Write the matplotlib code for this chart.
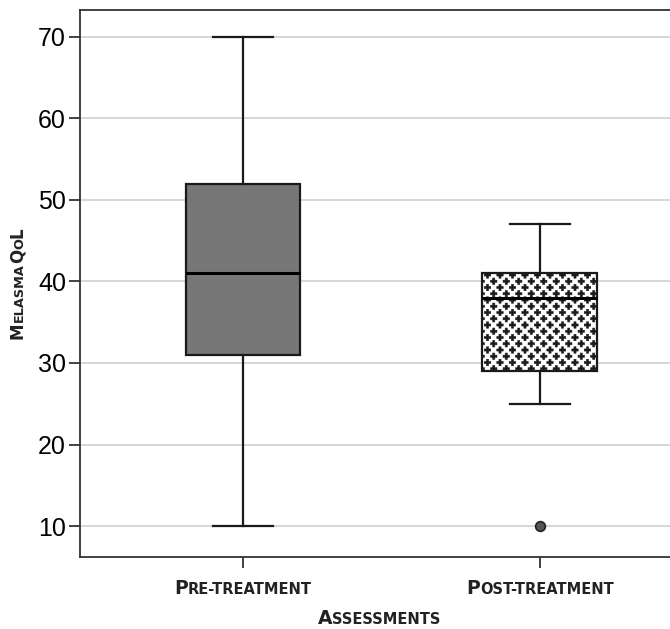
import numpy as np
import matplotlib
matplotlib.use('Agg')
import matplotlib.pyplot as plt
import matplotlib.hatch as mhatch
from matplotlib.path import Path

# data
groups = ['Pre-treatment', 'Post-treatment']
q1 = [31, 29]
med = [41, 38]
q3 = [52, 41]
whislo = [10, 25]
whishi = [70, 47]
fliers = [[], [10]]
yticks = [10, 20, 30, 40, 50, 60, 70]


class PlusHatch(mhatch.HatchPatternBase):
    # staggered little "+" signs, used in place of the '*' hatch
    def __init__(self, hatch, density):
        self.n = int(round(hatch.count('*') * density * 4 / 3))
        s, a = 0.032, 0.0105
        self.shape = np.array([(-a, -s), (a, -s), (a, -a), (s, -a), (s, a), (a, a),
                               (a, s), (-a, s), (-a, a), (-s, a), (-s, -a), (-a, -a),
                               (-a, -s)])
        self.centers = []
        for row in range(2 * self.n + 1):
            if row % 2 == 0:
                cols = np.linspace(0, 1, self.n + 1)
            else:
                cols = np.linspace(0.5 / self.n, 1 - 0.5 / self.n, self.n)
            for c in cols:
                self.centers.append((c, row / (2 * self.n)))
        self.num_vertices = len(self.centers) * len(self.shape) if self.n else 0

    def set_vertices_and_codes(self, vertices, codes):
        k = len(self.shape)
        for i, (cx, cy) in enumerate(self.centers):
            vertices[i * k:(i + 1) * k] = self.shape + (cx, cy)
            codes[i * k] = Path.MOVETO
            codes[i * k + 1:(i + 1) * k - 1] = Path.LINETO
            codes[(i + 1) * k - 1] = Path.CLOSEPOLY


mhatch._hatch_types = [PlusHatch if h is mhatch.Stars else h for h in mhatch._hatch_types]

plt.rcParams['hatch.color'] = '#474747'
plt.rcParams['hatch.linewidth'] = 0.4

fig = plt.figure(figsize=(6.7, 6.29), dpi=100)
ax = fig.add_axes([80 / 670, 1 - 557 / 629, 1 - 80 / 670, (557 - 10) / 629])

stats = []
for i in range(len(groups)):
    stats.append(dict(label=groups[i], q1=q1[i], med=med[i], q3=q3[i],
                      whislo=whislo[i], whishi=whishi[i], fliers=fliers[i]))

bp = ax.bxp(stats, positions=[1, 2], widths=0.387, patch_artist=True,
            boxprops=dict(linewidth=1.6, edgecolor='#1a1a1a'),
            medianprops=dict(color='black', linewidth=2.2),
            whiskerprops=dict(color='#1a1a1a', linewidth=1.6),
            capprops=dict(color='#1a1a1a', linewidth=1.6),
            capwidths=0.2,
            flierprops=dict(marker='o', markersize=7, markerfacecolor='#555555',
                            markeredgecolor='#222222', markeredgewidth=1.2))
bp['boxes'][0].set_facecolor('#777777')
bp['boxes'][1].set_facecolor('white')
bp['boxes'][1].set_hatch('*')

ax.set_xlim(0.451, 2.438)
ax.set_ylim(6.2, 73.3)
ax.set_yticks(yticks)
ax.set_xticks([1, 2])
ax.set_xticklabels(['', ''])
ax.yaxis.grid(True, color='#d4d4d4', linewidth=1.3)
ax.set_axisbelow(True)
ax.spines['right'].set_visible(False)
for s in ['left', 'top', 'bottom']:
    ax.spines[s].set_color('#333333')
    ax.spines[s].set_linewidth(1.3)
ax.tick_params(axis='both', length=8, width=1.3, color='#333333')
ax.tick_params(axis='y', labelsize=18, pad=2)
for lab in ax.get_yticklabels():
    lab.set_family('Liberation Sans')


def small_caps(x, y, word, big=13.5, small=10.5, rotation=0):
    # fake small caps: capitals big, the rest upper case but smaller
    runs = []
    for ch in word:
        sz = big if ch.isupper() else small
        if runs and runs[-1][1] == sz:
            runs[-1][0] += ch.upper()
        else:
            runs.append([ch.upper(), sz])
    r = fig.canvas.get_renderer()
    texts, widths = [], []
    for s, sz in runs:
        t = fig.text(0, 0, s, fontsize=sz, fontweight='bold', family='DejaVu Sans',
                     color='#222222', ha='left', va='baseline')
        texts.append(t)
        widths.append(t.get_window_extent(r).width)
    total = sum(widths)
    pos = -total / 2
    for t, w in zip(texts, widths):
        if rotation:
            t.set_position((x / 670, (629 - y + pos) / 629))
            t.set_rotation(90)
            t.set_rotation_mode('anchor')
        else:
            t.set_position(((x + pos) / 670, (629 - y) / 629))
        pos += w


for i, g in enumerate(groups):
    px = ax.transData.transform((i + 1, 0))[0]
    small_caps(px, 594, g)
small_caps(379, 624, 'Assessments')
small_caps(23, 283, 'MelasmaQoL', big=12, small=9.3, rotation=90)

fig.savefig('out.png', dpi=100)
